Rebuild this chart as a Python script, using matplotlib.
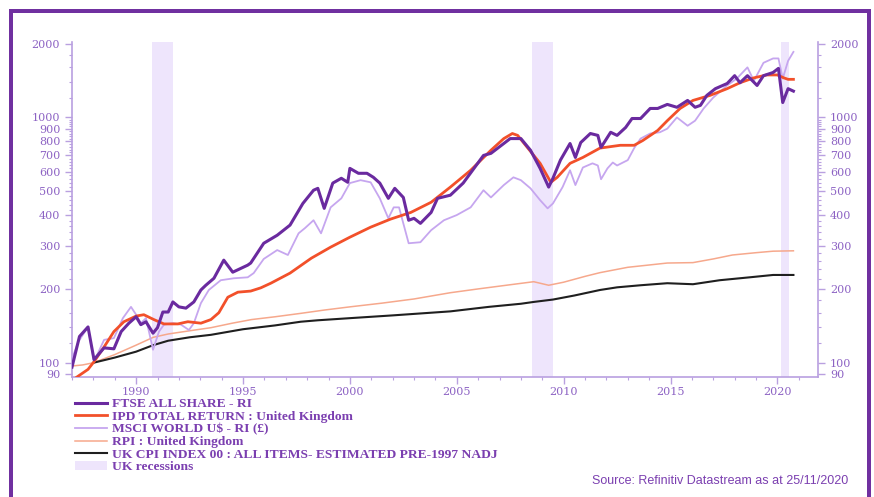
import matplotlib
matplotlib.use('Agg')
from matplotlib import pyplot as plt
from matplotlib.lines import Line2D
from matplotlib.patches import Patch, Rectangle
from matplotlib.ticker import FixedLocator, NullFormatter

# rebased to 100 at end-1987
ftse_years = [1987.0, 1987.35, 1987.75, 1988.03, 1988.5, 1988.96, 1989.3, 1989.66, 1990.0, 1990.22,
              1990.46, 1990.79, 1991.0, 1991.25, 1991.5, 1991.72, 1992.0, 1992.33, 1992.7, 1993.03,
              1993.26, 1993.64, 1994.1, 1994.52, 1995.22, 1995.36, 1995.97, 1996.6, 1997.2, 1997.8,
              1998.3, 1998.5, 1998.8, 1999.2, 1999.6, 1999.9, 2000.0, 2000.4, 2000.8, 2001.1,
              2001.4, 2001.8, 2002.1, 2002.5, 2002.75, 2003.0, 2003.3, 2003.8, 2004.1, 2004.7,
              2005.3, 2006.25, 2006.6, 2007.2, 2007.5, 2008.0, 2008.45, 2008.9, 2009.3, 2009.5,
              2009.85, 2010.3, 2010.55, 2010.8, 2011.25, 2011.6, 2011.75, 2012.2, 2012.5, 2012.9,
              2013.2, 2013.6, 2014.05, 2014.4, 2014.85, 2015.3, 2015.8, 2016.15, 2016.4, 2016.7,
              2017.1, 2017.65, 2018.0, 2018.25, 2018.6, 2019.05, 2019.35, 2019.8, 2020.05, 2020.25,
              2020.5, 2020.75]
ftse = [96, 128, 140, 103, 115, 114, 134, 145, 154, 143,
        147, 132, 139, 161, 161, 177, 169, 167, 177, 198,
        207, 221, 262, 234, 250, 255, 307, 331, 364, 446,
        505, 514, 426, 540, 565, 544, 620, 592, 592, 570,
        540, 468, 514, 472, 381, 388, 370, 410, 468, 482,
        540, 700, 714, 783, 820, 820, 735, 620, 520, 565,
        670, 783, 687, 790, 860, 845, 755, 870, 845, 910,
        990, 990, 1088, 1088, 1130, 1100, 1173, 1100, 1120, 1230,
        1310, 1375, 1480, 1385, 1480, 1350, 1480, 1525, 1585, 1150,
        1310, 1280]

ipd_years = [1987.0, 1987.19, 1987.75, 1988.03, 1988.5, 1988.96, 1989.43, 1990.0, 1990.36, 1990.83,
             1991.3, 1991.95, 1992.42, 1993.03, 1993.5, 1993.87, 1994.29, 1994.76, 1995.36, 1995.83,
             1996.3, 1997.2, 1998.2, 1999.1, 2000.0, 2000.97, 2001.9, 2002.85, 2003.8, 2004.7,
             2005.65, 2006.6, 2007.2, 2007.6, 2007.85, 2008.3, 2008.9, 2009.4, 2009.7, 2010.3,
             2010.9, 2011.7, 2012.65, 2013.3, 2013.7, 2014.4, 2014.85, 2015.45, 2016.05, 2016.85,
             2017.65, 2018.25, 2018.9, 2019.5, 2020.0, 2020.3, 2020.5, 2020.75]
ipd = [84, 87, 94, 101, 116, 134, 147, 155, 157, 150,
       144, 144, 147, 145, 150, 160, 185, 194, 196, 202,
       211, 232, 267, 296, 325, 357, 385, 410, 451, 520,
       609, 735, 820, 860, 845, 755, 650, 544, 570, 650,
       687, 750, 770, 770, 805, 885, 970, 1088, 1173, 1230,
       1310, 1385, 1450, 1490, 1490, 1450, 1430, 1430]

msci_years = [1987.0, 1987.3, 1987.75, 1988.03, 1988.5, 1988.96, 1989.38, 1989.76, 1990.0, 1990.22,
              1990.46, 1990.79, 1991.07, 1991.3, 1991.72, 1992.1, 1992.47, 1992.7, 1993.03, 1993.4,
              1993.96, 1994.57, 1995.22, 1995.5, 1995.97, 1996.6, 1997.1, 1997.6, 1997.9, 1998.3,
              1998.65, 1999.1, 1999.6, 2000.0, 2000.5, 2000.97, 2001.4, 2001.8, 2002.05, 2002.3,
              2002.5, 2002.75, 2003.3, 2003.8, 2004.4, 2005.0, 2005.65, 2006.25, 2006.6, 2007.2,
              2007.65, 2008.0, 2008.45, 2008.9, 2009.25, 2009.5, 2009.95, 2010.3, 2010.55, 2010.9,
              2011.35, 2011.6, 2011.75, 2012.05, 2012.3, 2012.5, 2013.0, 2013.3, 2013.6, 2014.05,
              2014.5, 2014.85, 2015.3, 2015.8, 2016.15, 2016.55, 2017.0, 2017.65, 2018.1, 2018.6,
              2018.9, 2019.35, 2019.8, 2020.05, 2020.25, 2020.5, 2020.75]
msci = [104, 122, 140, 101, 124, 126, 152, 169, 157, 145,
        152, 113, 134, 143, 145, 143, 136, 145, 175, 198,
        217, 221, 223, 232, 265, 288, 275, 337, 354, 381,
        337, 430, 468, 540, 555, 544, 468, 388, 430, 430,
        370, 307, 310, 347, 381, 400, 430, 505, 472, 530,
        570, 555, 514, 460, 426, 446, 520, 609, 530, 625,
        650, 637, 560, 620, 655, 637, 670, 750, 820, 860,
        870, 900, 1000, 925, 970, 1088, 1205, 1350, 1440, 1600,
        1410, 1670, 1740, 1740, 1440, 1700, 1850]

rpi_years = [1987.0, 1987.5, 1988.0, 1989.0, 1990.0, 1990.8, 1991.5, 1992.5, 1993.5, 1994.5,
             1995.4, 1996.5, 1997.7, 1998.8, 2000.0, 2001.5, 2003.0, 2004.7, 2006.0, 2007.5,
             2008.6, 2009.3, 2010.0, 2011.0, 2011.7, 2013.0, 2014.85, 2016.05, 2017.0, 2017.9,
             2019.0, 2019.8, 2020.75]
rpi = [97, 98, 100, 108, 118, 127, 131, 135, 139, 145,
       150, 154, 159, 164, 169, 175, 182, 193, 200, 208,
       214, 207, 213, 225, 233, 245, 255, 256, 265, 275,
       281, 285, 286]

cpi_years = [1988.0, 1989.0, 1990.0, 1990.8, 1991.5, 1992.5, 1993.5, 1995.0, 1996.5, 1997.7,
             1998.5, 2000.0, 2002.0, 2004.7, 2006.5, 2008.0, 2008.6, 2009.5, 2010.5, 2011.7,
             2012.5, 2013.6, 2014.85, 2016.05, 2017.3, 2018.7, 2019.8, 2020.75]
cpi = [100, 105, 111, 118, 123, 127, 130, 137, 142, 147,
       149, 152, 156, 162, 169, 174, 177, 181, 188, 198,
       203, 207, 211, 209, 217, 223, 228, 228]

recessions = [(1990.74, 1991.72), (2008.5, 2009.52), (2020.18, 2020.55)]

labels = ['FTSE ALL SHARE - RI',
          'IPD TOTAL RETURN : United Kingdom',
          'MSCI WORLD U$ - RI (£)',
          'RPI : United Kingdom',
          'UK CPI INDEX 00 : ALL ITEMS- ESTIMATED PRE-1997 NADJ',
          'UK recessions']

y_labels = [90, 100, 200, 300, 400, 500, 600, 700, 800, 900, 1000, 2000]

PURPLE = '#7030a0'
TXT = '#7b3fb0'
TICK_TXT = '#8d63c4'
SPINE = '#b9a0e0'
c_ftse, c_ipd, c_msci, c_rpi, c_cpi = '#6a2a9f', '#f2502a', '#c6a6ef', '#f6a88c', '#1f1f1f'
c_rec = '#eee5fc'

fig = plt.figure(figsize=(8.74, 4.97), dpi=100)
ax = fig.add_axes([72/874, 1-377/497, (818-72)/874, (377-42)/497])

for a, b in recessions:
    ax.axvspan(a, b, color=c_rec, lw=0, zorder=0)

ax.plot(rpi_years, rpi, color=c_rpi, lw=1.1, zorder=2)
ax.plot(cpi_years, cpi, color=c_cpi, lw=1.5, zorder=3)
ax.plot(msci_years, msci, color=c_msci, lw=1.3, zorder=4)
ax.plot(ipd_years, ipd, color=c_ipd, lw=2.0, zorder=5)
ax.plot(ftse_years, ftse, color=c_ftse, lw=2.2, zorder=6)

ax.set_yscale('log')
ax.set_ylim(87.5, 2030)
ax.set_xlim(1987.0, 2021.9)

ax.yaxis.set_major_locator(FixedLocator(y_labels))
ax.set_yticklabels([str(v) for v in y_labels])
minor = list(range(120, 200, 20)) + list(range(220, 1000, 20)) + list(range(1200, 2000, 200))
ax.yaxis.set_minor_locator(FixedLocator(minor))
ax.yaxis.set_minor_formatter(NullFormatter())
ax.set_xticks(range(1990, 2021, 5))
ax.set_xticks(range(1987, 2022), minor=True)

ax.tick_params(axis='y', which='both', left=True, right=True, labelleft=True, labelright=True)
ax.tick_params(which='major', length=5, width=1, color=SPINE, labelcolor=TICK_TXT, labelsize=8)
ax.tick_params(axis='x', which='major', pad=2)
ax.tick_params(which='minor', length=2.5, width=0.8, color=SPINE)
for lab in ax.get_xticklabels() + ax.get_yticklabels():
    lab.set_fontfamily('DejaVu Serif')

ax.spines['top'].set_visible(False)
for s in ['left', 'right', 'bottom']:
    ax.spines[s].set_color(SPINE)
    ax.spines[s].set_linewidth(1.2)

handles = [Line2D([], [], color=c_ftse, lw=2.2),
           Line2D([], [], color=c_ipd, lw=2.0),
           Line2D([], [], color=c_msci, lw=1.3),
           Line2D([], [], color=c_rpi, lw=1.1),
           Line2D([], [], color=c_cpi, lw=1.5),
           Patch(facecolor=c_rec, edgecolor='none')]
leg = fig.legend(handles, labels, loc='upper left', bbox_to_anchor=(75/874, 1-398/497),
                 frameon=False, handlelength=2.4, handleheight=0.6, handletextpad=0.35,
                 labelspacing=0.045, borderaxespad=0, borderpad=0,
                 prop={'family': 'Liberation Serif', 'weight': 'bold', 'size': 9.7})
for t in leg.get_texts():
    t.set_color(TXT)

fig.text(848/874, 1-481/497, 'Source: Refinitiv Datastream as at 25/11/2020', ha='right', va='center',
         color=TXT, fontsize=9, family='Liberation Sans')

# purple frame around the chart
fig.add_artist(Rectangle((9/874, 0), 4/874, 1-9/497, transform=fig.transFigure, color=PURPLE, lw=0))
fig.add_artist(Rectangle((9/874, 1-13/497), (871-9)/874, 4/497, transform=fig.transFigure, color=PURPLE, lw=0))
fig.add_artist(Rectangle((867/874, 0), 4/874, 1-9/497, transform=fig.transFigure, color=PURPLE, lw=0))

fig.savefig('out.png', dpi=100)
